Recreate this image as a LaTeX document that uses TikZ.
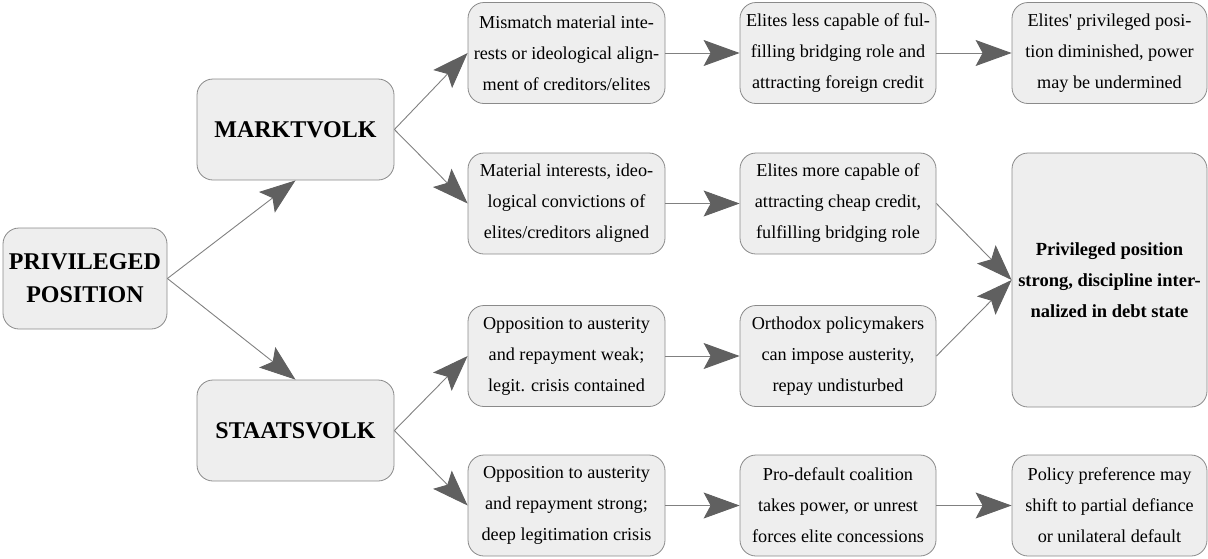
\documentclass[tikz,border=0pt]{standalone}
\usepackage{fontspec}
\setmainfont{Liberation Serif}
\usetikzlibrary{arrows.meta}
\definecolor{boxfill}{HTML}{EEEEEE}
\definecolor{boxline}{HTML}{8A8A8A}
\definecolor{linkline}{HTML}{808080}
\definecolor{headfill}{HTML}{606060}
\tikzset{
  box/.style={draw=boxline, fill=boxfill, line width=0.8pt, rounded corners=16pt,
    align=center, inner sep=0pt, minimum width=197pt, minimum height=101pt,
    font=\fontsize{18.2}{31}\selectfont},
  headbox/.style={box, font=\bfseries\fontsize{24}{33}\selectfont},
  link/.style={draw=linkline, line width=0.9pt,
    -{Stealth[length=36pt,width=26pt,inset=7pt,color=headfill,fill=headfill]}},
}
\begin{document}
\begin{tikzpicture}[x=1pt,y=1pt]
\useasboundingbox (0,0) rectangle (1208,-558);

% root and the two branches
\node[headbox, minimum width=164pt] (priv) at (85,-278.5) {PRIVILEGED\\POSITION};
\node[headbox] (markt) at (295.5,-129.5) {MARKTVOLK};
\node[headbox] (staat) at (295.5,-430.5) {STAATSVOLK};

% second column
\node[box] (m1) at (566.5,-53) {Mismatch material inte-\\rests or ideological align-\\ment of creditors/elites};
\node[box] (m2) at (566.5,-203.5) {Material interests, ideo-\\logical convictions of\\elites/creditors aligned};
\node[box] (s1) at (566.5,-356) {Opposition to austerity\\and repayment weak;\\legit. crisis contained};
\node[box] (s2) at (566.5,-505.5) {Opposition to austerity\\and repayment strong;\\deep legitimation crisis};

% third column
\node[box, minimum width=196pt] (m1b) at (838,-53) {Elites less capable of ful-\\filling bridging role and\\attracting foreign credit};
\node[box, minimum width=196pt] (m2b) at (838,-203.5) {Elites more capable of\\attracting cheap credit,\\fulfilling bridging role};
\node[box, minimum width=196pt] (s1b) at (838,-356) {Orthodox policymakers\\can impose austerity,\\repay undisturbed};
\node[box, minimum width=196pt] (s2b) at (838,-505.5) {Pro-default coalition\\takes power, or unrest\\forces elite concessions};

% outcomes
\node[box, minimum width=195pt] (m1c) at (1109.5,-53) {Elites\textquotesingle{} privileged posi-\\tion diminished, power\\may be undermined};
\node[box, minimum width=195pt, minimum height=254pt, font=\bfseries\fontsize{18.5}{31}\selectfont] (strong) at (1109.5,-280) {Privileged position\\strong, discipline inter-\\nalized in debt state};
\node[box, minimum width=195pt] (s2c) at (1109.5,-505.5) {Policy preference may\\shift to partial defiance\\or unilateral default};

% connectors
\draw[link] (priv.east) -- (markt.south);
\draw[link] (priv.east) -- (staat.north);
\draw[link] (markt.east) -- (m1.west);
\draw[link] (markt.east) -- (m2.west);
\draw[link] (staat.east) -- (s1.west);
\draw[link] (staat.east) -- (s2.west);
\draw[link] (m1) -- (m1b);
\draw[link] (m2) -- (m2b);
\draw[link] (s1) -- (s1b);
\draw[link] (s2) -- (s2b);
\draw[link] (m1b) -- (m1c);
\draw[link] (s2b) -- (s2c);
\draw[link] (m2b.east) -- (strong.west);
\draw[link] (s1b.east) -- (strong.west);
\end{tikzpicture}
\end{document}
